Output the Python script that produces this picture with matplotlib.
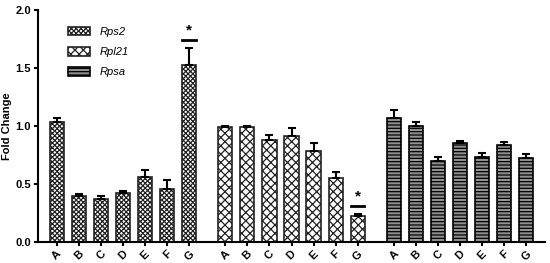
import numpy as np
import matplotlib.pyplot as plt

# Data
samples = ['A', 'B', 'C', 'D', 'E', 'F', 'G']
genes = ['Rps2', 'Rpl21', 'Rpsa']
rps2 = [1.03, 0.40, 0.37, 0.42, 0.56, 0.46, 1.53]
rps2_err = [0.04, 0.01, 0.03, 0.02, 0.06, 0.07, 0.14]
rpl21 = [0.99, 0.99, 0.88, 0.91, 0.78, 0.55, 0.22]
rpl21_err = [0.01, 0.01, 0.04, 0.07, 0.07, 0.05, 0.02]
rpsa = [1.07, 1.00, 0.70, 0.85, 0.73, 0.84, 0.72]
rpsa_err = [0.07, 0.03, 0.03, 0.02, 0.04, 0.02, 0.04]
# significance marks: (gene index, sample index)
stars = [(0, 6), (1, 6)]

plt.rcParams['font.family'] = 'Liberation Sans'
plt.rcParams['font.weight'] = 'bold'
plt.rcParams['hatch.linewidth'] = 0.9

fig = plt.figure(figsize=(5.5, 2.63), dpi=100)
ax = fig.add_axes([0.069, 0.080, 0.922, 0.882])

series = [(rps2, rps2_err), (rpl21, rpl21_err), (rpsa, rpsa_err)]
styles = [dict(facecolor='white', hatch='xxxxxxx', edgecolor='#222222'),
          dict(facecolor='white', hatch='xxxx', edgecolor='#222222'),
          dict(facecolor='#909090', hatch='-----', edgecolor='black')]
group_gap = 7.65
width = 0.64

ticks = []
for g, ((vals, errs), st) in enumerate(zip(series, styles)):
    x = np.arange(len(samples)) + g * group_gap
    ticks.extend(x)
    ax.bar(x, vals, width, label=genes[g], linewidth=1.2, **st)
    ax.errorbar(x, vals, yerr=[np.zeros(len(errs)), errs], fmt='none',
                ecolor='black', elinewidth=1.5, capsize=3, capthick=1.5)

for g, i in stars:
    vals, errs = series[g]
    xs = i + g * group_gap
    top = vals[i] + errs[i] + 0.07
    ax.plot([xs - 0.3, xs + 0.3], [top, top], color='black', lw=2)
    ax.text(xs, top + 0.02, '*', ha='center', va='bottom', fontsize=11)

ax.set_xticks(ticks)
ax.set_xticklabels(samples * 3, rotation=45, fontsize=8)
ax.set_xlim(-0.86, 6 + 2 * group_gap + 0.86)
ax.set_ylim(0, 2.0)
ax.set_yticks([0, 0.5, 1.0, 1.5, 2.0])
ax.set_yticklabels(['0.0', '0.5', '1.0', '1.5', '2.0'], fontsize=8)
ax.set_ylabel('Fold Change', fontsize=8, fontweight='bold')
ax.yaxis.set_label_coords(-0.052, 0.5)
ax.spines['top'].set_visible(False)
ax.spines['right'].set_visible(False)
ax.spines['left'].set_linewidth(1.5)
ax.spines['bottom'].set_linewidth(1.5)
ax.tick_params(width=1.5, length=3, pad=2)

leg = ax.legend(loc='upper left', bbox_to_anchor=(0.04, 0.97), frameon=False,
                prop={'style': 'italic', 'size': 8, 'weight': 'normal'},
                handlelength=2.0, handleheight=0.8, labelspacing=0.9)

fig.savefig('out.png', dpi=100)
